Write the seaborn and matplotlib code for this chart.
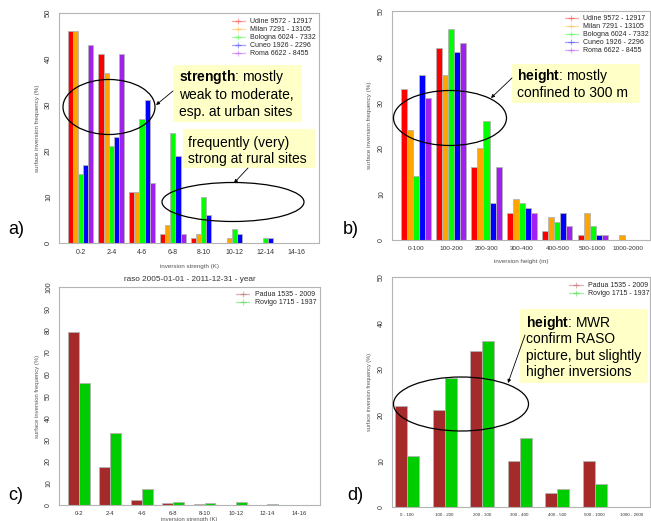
import numpy as np
import pandas as pd
import matplotlib
matplotlib.use("Agg")
import matplotlib.pyplot as plt
import seaborn as sns
from matplotlib.lines import Line2D
from matplotlib.patches import Ellipse, Rectangle

# ---- data ----
strength_bins = ["0-2", "2-4", "4-6", "6-8", "8-10", "10-12", "12-14", "14-16"]
height_bins = ["0-100", "100-200", "200-300", "300-400", "400-500", "500-1000", "1000-2000"]
height_bins_mwr = ["0 - 100", "100 - 200", "200 - 300", "300 - 400", "400 - 500", "500 - 1000", "1000 - 2000"]

stations = ["Udine 9572 - 12917", "Milan 7291 - 13105", "Bologna 6024 - 7332",
            "Cuneo 1926 - 2296", "Roma 6622 - 8455"]
station_colors = ["#ff0000", "#ffa500", "#00ff00", "#0000ff", "#a020f0"]

strength_udine = [46, 41, 11, 2, 1, 0, 0, 0]
strength_milan = [46, 37, 11, 4, 2, 1, 0, 0]
strength_bologna = [15, 21, 27, 24, 10, 3, 1, 0]
strength_cuneo = [17, 23, 31, 19, 6, 2, 1, 0]
strength_roma = [43, 41, 13, 2, 0, 0, 0, 0]

height_udine = [33, 42, 16, 6, 2, 1, 0]
height_milan = [24, 36, 20, 9, 5, 6, 1]
height_bologna = [14, 46, 26, 8, 4, 3, 0]
height_cuneo = [36, 41, 8, 7, 6, 1, 0]
height_roma = [31, 43, 16, 6, 3, 1, 0]

raso_sites = ["Padua 1535 - 2009", "Rovigo 1715 - 1937"]
raso_colors = ["#a52a2a", "#00cd00"]
raso_padua = [79.3, 17.3, 2.3, 0.8, 0.3, 0.1, 0.2, 0.0]
raso_rovigo = [55.8, 32.8, 7.3, 1.6, 0.9, 1.2, 0.3, 0.0]

mwr_padua = [22, 21, 34, 10, 3, 10, 0]
mwr_rovigo = [11, 28, 36, 15, 4, 5, 0]

W, H = 651, 521
FONT = "Liberation Sans"
GRAY = "#b4b4b4"
TXT = "#333333"


def px_box(left, top, right, bottom):
    return [left / W, 1 - bottom / H, (right - left) / W, (bottom - top) / H]


def bar_panel(ax, bins, names, series, colors, width, xlim, ymax, ystep,
              xlabel, xfs, yfs, labfs, legend_xy, legend_fs, handle_len, xlabelpad=6):
    df = pd.DataFrame({
        "bin": [b for s in series for b in bins],
        "station": [n for n, s in zip(names, series) for _ in s],
        "freq": [v for s in series for v in s],
    })
    sns.barplot(data=df, x="bin", y="freq", hue="station", order=bins,
                hue_order=names, palette=colors, saturation=1, width=width, gap=0,
                edgecolor=GRAY, linewidth=0.6, legend=False, ax=ax)
    ax.set_xlim(*xlim)
    ax.set_ylim(0, ymax)
    ax.set_yticks(np.arange(0, ymax + 1, ystep))
    for sp in ax.spines.values():
        sp.set_visible(True)
        sp.set_color(GRAY)
        sp.set_linewidth(0.8)
    ax.tick_params(axis="x", length=0, pad=4, labelsize=xfs, labelcolor=TXT)
    ax.tick_params(axis="y", length=3, width=0.6, color=GRAY, pad=2,
                   labelsize=yfs, labelcolor=TXT)
    for lab in ax.get_yticklabels():
        lab.set_rotation(90)
        lab.set_va("center")
    ax.set_ylabel("surface inversion frequency (%)", fontsize=labfs, color="#555555", labelpad=4)
    ax.set_xlabel(xlabel, fontsize=labfs, color="#555555", labelpad=xlabelpad)
    handles = [Line2D([], [], color=c, alpha=0.35, lw=1, marker="+", ms=5, mew=0.8)
               for c in colors]
    ax.legend(handles, names, loc="upper left",
              bbox_to_anchor=(legend_xy[0] / W, 1 - legend_xy[1] / H),
              bbox_transform=ax.figure.transFigure, frameon=False,
              fontsize=legend_fs, borderpad=0, borderaxespad=0,
              handlelength=handle_len, handletextpad=0.8, labelspacing=0.15)


sns.set_theme(style="white")
plt.rcParams["font.family"] = [FONT, "DejaVu Sans"]
plt.rcParams["mathtext.fontset"] = "custom"
plt.rcParams["mathtext.rm"] = FONT
plt.rcParams["mathtext.bf"] = FONT + ":bold"

fig = plt.figure(figsize=(W / 100, H / 100), dpi=100)
fig.patch.set_facecolor("white")

ax_a = fig.add_axes(px_box(59, 13, 319, 243))
ax_b = fig.add_axes(px_box(392, 11, 650, 240))
ax_c = fig.add_axes(px_box(59, 287, 320, 505))
ax_d = fig.add_axes(px_box(392, 277, 650, 507))

bar_panel(ax_a, strength_bins, stations,
          [strength_udine, strength_milan, strength_bologna, strength_cuneo, strength_roma],
          station_colors, 0.84, (-0.7, 7.75), 50, 10, "inversion strength (K)",
          5, 5.5, 4.5, (232, 18), 5, 1.8)
bar_panel(ax_b, height_bins, stations,
          [height_udine, height_milan, height_bologna, height_cuneo, height_roma],
          station_colors, 0.85, (-0.67, 6.62), 50, 10, "inversion height (m)",
          4.6, 5, 4.5, (565, 15), 5, 1.8)
bar_panel(ax_c, strength_bins, raso_sites, [raso_padua, raso_rovigo],
          raso_colors, 0.69, (-0.63, 7.67), 100, 10, "inversion strength (K)",
          4.2, 5, 4.2, (236, 291), 5, 1.9, xlabelpad=1)
bar_panel(ax_d, height_bins_mwr, raso_sites, [mwr_padua, mwr_rovigo],
          raso_colors, 0.64, (-0.4, 6.48), 50, 10, "",
          3.2, 5, 4, (569, 282), 5, 2.0)
ax_c.set_title("raso 2005-01-01 - 2011-12-31 - year", fontsize=5.9, color=TXT, pad=4)

# ---- overlay in pixel coordinates for annotations ----
ov = fig.add_axes([0, 0, 1, 1], zorder=10)
ov.set_xlim(0, W)
ov.set_ylim(H, 0)
ov.axis("off")
ov.patch.set_alpha(0)

for lab, x, y in [("a)", 8, 230), ("b)", 343, 229), ("c)", 8, 495), ("d)", 347, 495)]:
    ov.text(x, y, lab, fontsize=13, ha="left", va="center", color="black")

notes = [
    ((173, 65, 302, 122), 179, [r"$\bf{strength}$: mostly", "weak to moderate,", "esp. at urban sites"],
     [77, 95, 112]),
    ((183, 129, 315, 168), 188, ["frequently (very)", "strong at rural sites"], [143, 159]),
    ((512, 64, 640, 103), 517, [r"$\bf{height}$: mostly", "confined to 300 m"], [76, 93]),
    ((520, 309, 648, 383), 526, [r"$\bf{height}$: MWR", "confirm RASO",
                                 "picture, but slightly", "higher inversions"], [323, 339, 356, 372]),
]
for (l, t, r, b), tx, lines, ys in notes:
    ov.add_patch(Rectangle((l, t), r - l, b - t, facecolor="#ffffc8", edgecolor="none"))
    for line, y in zip(lines, ys):
        ov.text(tx, y, line, fontsize=10, ha="left", va="center", color="black")

ellipses = [((109, 107), 92, 55), ((233, 202), 142, 39), ((450, 118), 113, 55), ((461, 404), 135, 54)]
for (cx, cy), w, h in ellipses:
    ov.add_patch(Ellipse((cx, cy), w, h, fill=False, edgecolor="black", lw=0.9))

arrows = [((173, 91), (156, 105)), ((248, 168), (234, 183)),
          ((512, 78), (491, 98)), ((525, 335), (508, 383))]
for start, tip in arrows:
    ov.annotate("", xy=tip, xytext=start,
                arrowprops=dict(arrowstyle="-|>", lw=0.6, color="black", mutation_scale=5,
                                shrinkA=0, shrinkB=0))

fig.savefig("out.png", dpi=100)
